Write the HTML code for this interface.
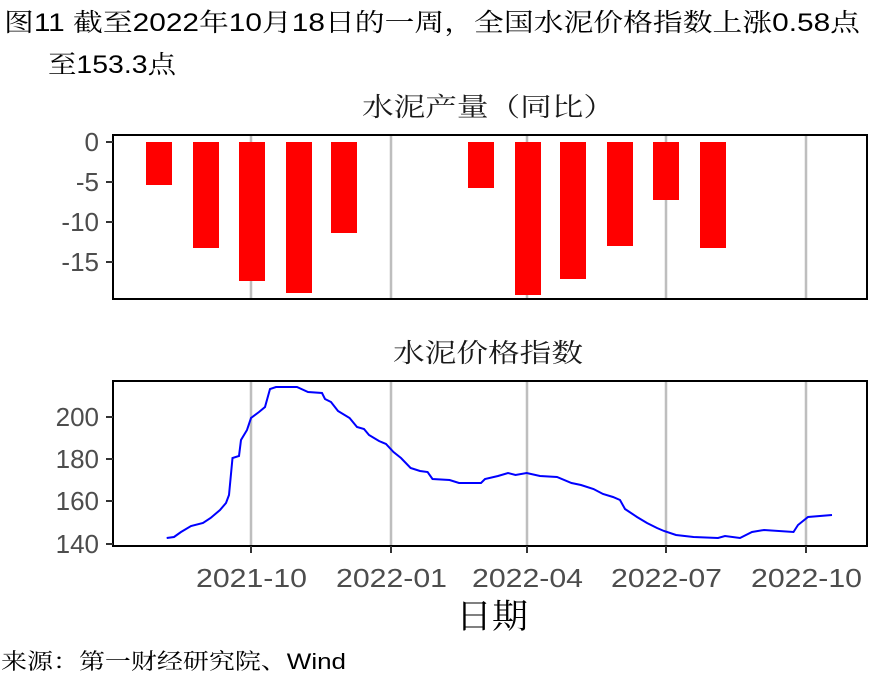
<!DOCTYPE html>
<html><head><meta charset="utf-8"><style>
body{margin:0;background:#fff;}
svg{display:block;font-family:"Liberation Sans","Noto Serif CJK SC",sans-serif;}
</style></head><body>
<svg width="885" height="688" viewBox="0 0 885 688">
<text x="4" y="31" font-size="25" fill="#000" textLength="856" lengthAdjust="spacingAndGlyphs">图11  截至2022年10月18日的一周，全国水泥价格指数上涨0.58点</text>
<text x="48" y="73" font-size="25" fill="#000" textLength="128" lengthAdjust="spacingAndGlyphs">至153.3点</text>
<text x="362" y="116" font-size="26" fill="#1a1a1a" textLength="253" lengthAdjust="spacingAndGlyphs">水泥产量（同比）</text>
<g stroke="#bebebe" stroke-width="2.5">
<line x1="251" y1="135" x2="251" y2="299"/><line x1="391" y1="135" x2="391" y2="299"/><line x1="527" y1="135" x2="527" y2="299"/><line x1="666" y1="135" x2="666" y2="299"/><line x1="806" y1="135" x2="806" y2="299"/>
<line x1="251" y1="381" x2="251" y2="546"/><line x1="391" y1="381" x2="391" y2="546"/><line x1="527" y1="381" x2="527" y2="546"/><line x1="666" y1="381" x2="666" y2="546"/><line x1="806" y1="381" x2="806" y2="546"/>
</g>
<g fill="#ff0000">
<rect x="146" y="142" width="26" height="43"/>
<rect x="193" y="142" width="26" height="106"/>
<rect x="239" y="142" width="26" height="139"/>
<rect x="286" y="142" width="26" height="151"/>
<rect x="331" y="142" width="26" height="91"/>
<rect x="468" y="142" width="26" height="46"/>
<rect x="515" y="142" width="26" height="153"/>
<rect x="560" y="142" width="26" height="137"/>
<rect x="607" y="142" width="26" height="104"/>
<rect x="653" y="142" width="26" height="58"/>
<rect x="700" y="142" width="26" height="106"/>
</g>
<rect x="113" y="135" width="754" height="164" fill="none" stroke="#000" stroke-width="2"/>
<g stroke="#333" stroke-width="2">
<line x1="106" y1="142" x2="113" y2="142"/><line x1="106" y1="182" x2="113" y2="182"/><line x1="106" y1="222" x2="113" y2="222"/><line x1="106" y1="262" x2="113" y2="262"/>
</g>
<g font-size="26" fill="#4d4d4d" text-anchor="end">
<text x="99" y="151">0</text><text x="99" y="191">-5</text><text x="99" y="231">-10</text><text x="99" y="271">-15</text>
</g>
<text x="393" y="362" font-size="26" fill="#1a1a1a" textLength="190" lengthAdjust="spacingAndGlyphs">水泥价格指数</text>
<polyline fill="none" stroke="#0000ff" stroke-width="2" points="166.7,538 174,537 181,532 191,526 203,523 210.6,518 220,510 226,503 229,495 232.5,458 239,456 241,440 247,430 251,418 259,412 265,407 270,389 276,387 297,387 308,392 322,393 325,399 331,402 338,411 349.6,418 357,427 364,429 369,435 379,441 386,444 393.5,452 401,458 410.6,468 420,471 427.6,472 432.5,479 449.6,480 459,483 481,483 485,479 498,476 508,473 515.5,475 526.7,473 540,476 557,477 571.5,483 581,485 593.5,489 603,494 613,497 620,500 625,509 637,517 647,523 657,528 664,531 676,535 693.5,537 718,538 725,536 740,538 752,532 764,530 793.5,532 798,525 808,517 832,515"/>
<rect x="113" y="381" width="754" height="165" fill="none" stroke="#000" stroke-width="2"/>
<g stroke="#333" stroke-width="2">
<line x1="106" y1="417" x2="113" y2="417"/><line x1="106" y1="459" x2="113" y2="459"/><line x1="106" y1="501" x2="113" y2="501"/><line x1="106" y1="544" x2="113" y2="544"/>
<line x1="251" y1="546" x2="251" y2="553"/><line x1="391" y1="546" x2="391" y2="553"/><line x1="527" y1="546" x2="527" y2="553"/><line x1="666" y1="546" x2="666" y2="553"/><line x1="806" y1="546" x2="806" y2="553"/>
</g>
<g font-size="26" fill="#4d4d4d" text-anchor="end">
<text x="99" y="426">200</text><text x="99" y="468">180</text><text x="99" y="510">160</text><text x="99" y="553">140</text>
</g>
<g font-size="26" fill="#4d4d4d">
<text x="196" y="587" textLength="111" lengthAdjust="spacingAndGlyphs">2021-10</text>
<text x="336" y="587" textLength="111" lengthAdjust="spacingAndGlyphs">2022-01</text>
<text x="472" y="587" textLength="111" lengthAdjust="spacingAndGlyphs">2022-04</text>
<text x="611" y="587" textLength="111" lengthAdjust="spacingAndGlyphs">2022-07</text>
<text x="751" y="587" textLength="111" lengthAdjust="spacingAndGlyphs">2022-10</text>
</g>
<text x="456" y="628" font-size="34" fill="#000" textLength="72" lengthAdjust="spacingAndGlyphs">日期</text>
<text x="1" y="669" font-size="22" fill="#000" textLength="345" lengthAdjust="spacingAndGlyphs">来源：第一财经研究院、Wind</text>
</svg>
</body></html>
